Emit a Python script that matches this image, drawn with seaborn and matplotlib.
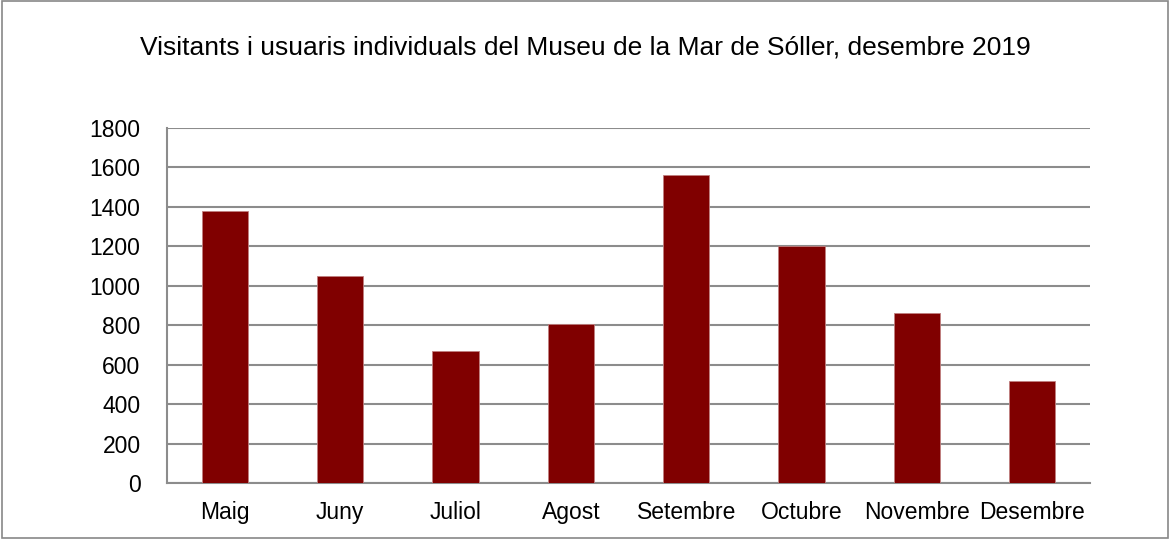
import matplotlib
matplotlib.use("Agg")
import matplotlib.pyplot as plt
import seaborn as sns
import pandas as pd
import numpy as np

months = ["Maig", "Juny", "Juliol", "Agost", "Setembre", "Octubre", "Novembre", "Desembre"]
visitors = [1377, 1050, 667, 806, 1563, 1201, 860, 518]
yticks = [0, 200, 400, 600, 800, 1000, 1200, 1400, 1600, 1800]
title = "Visitants i usuaris individuals del Museu de la Mar de Sóller, desembre 2019"

sns.set_theme(style="white")
plt.rcParams['font.family'] = ['Liberation Sans', 'DejaVu Sans']

df = pd.DataFrame({"month": months, "visitors": visitors})

fig = plt.figure(figsize=(11.70, 5.39), dpi=100)
ax = fig.add_axes([167/1170, 1 - 483/539, (1090-167)/1170, (483-128)/539])

sns.barplot(data=df, x="month", y="visitors", color="#800000", width=0.4,
            saturation=1, ax=ax, edgecolor="#c08080", linewidth=0.6, zorder=3)

ax.set_ylim(0, 1800)
ax.set_xlim(-0.5, len(months) - 0.5)
ax.set_yticks(yticks)
ax.set_yticklabels([str(v) for v in yticks], fontsize=16.5, color="#000000")
ax.tick_params(axis='x', labelsize=16.5, colors="#000000", length=0, pad=13)
ax.tick_params(axis='y', length=7, width=1.5, color="#888888", direction='out', pad=12)
ax.set_xlabel("")
ax.set_ylabel("")
ax.yaxis.grid(True, color="#8c8c8c", linewidth=1.5, zorder=0)
ax.set_axisbelow(True)

for s in ["top", "right"]:
    ax.spines[s].set_visible(False)
for s in ["left", "bottom"]:
    ax.spines[s].set_color("#8c8c8c")
    ax.spines[s].set_linewidth(1.5)

# category boundary ticks on x axis
ax.set_xticks(np.arange(len(months)))
ax.set_xticklabels(months)
ax.set_xticks(np.arange(-0.5, len(months)), minor=True)
ax.tick_params(axis='x', which='minor', length=7, width=1.5, color="#888888", direction='out')

fig.text(0.5, 1 - 48/539, title, ha="center", va="center", fontsize=19, color="#000000")

border = plt.Rectangle((0.002, 0.002), 0.996, 0.996, transform=fig.transFigure,
                       fill=False, edgecolor="#888888", linewidth=1.2)
fig.add_artist(border)

fig.savefig("out.png", dpi=100)
